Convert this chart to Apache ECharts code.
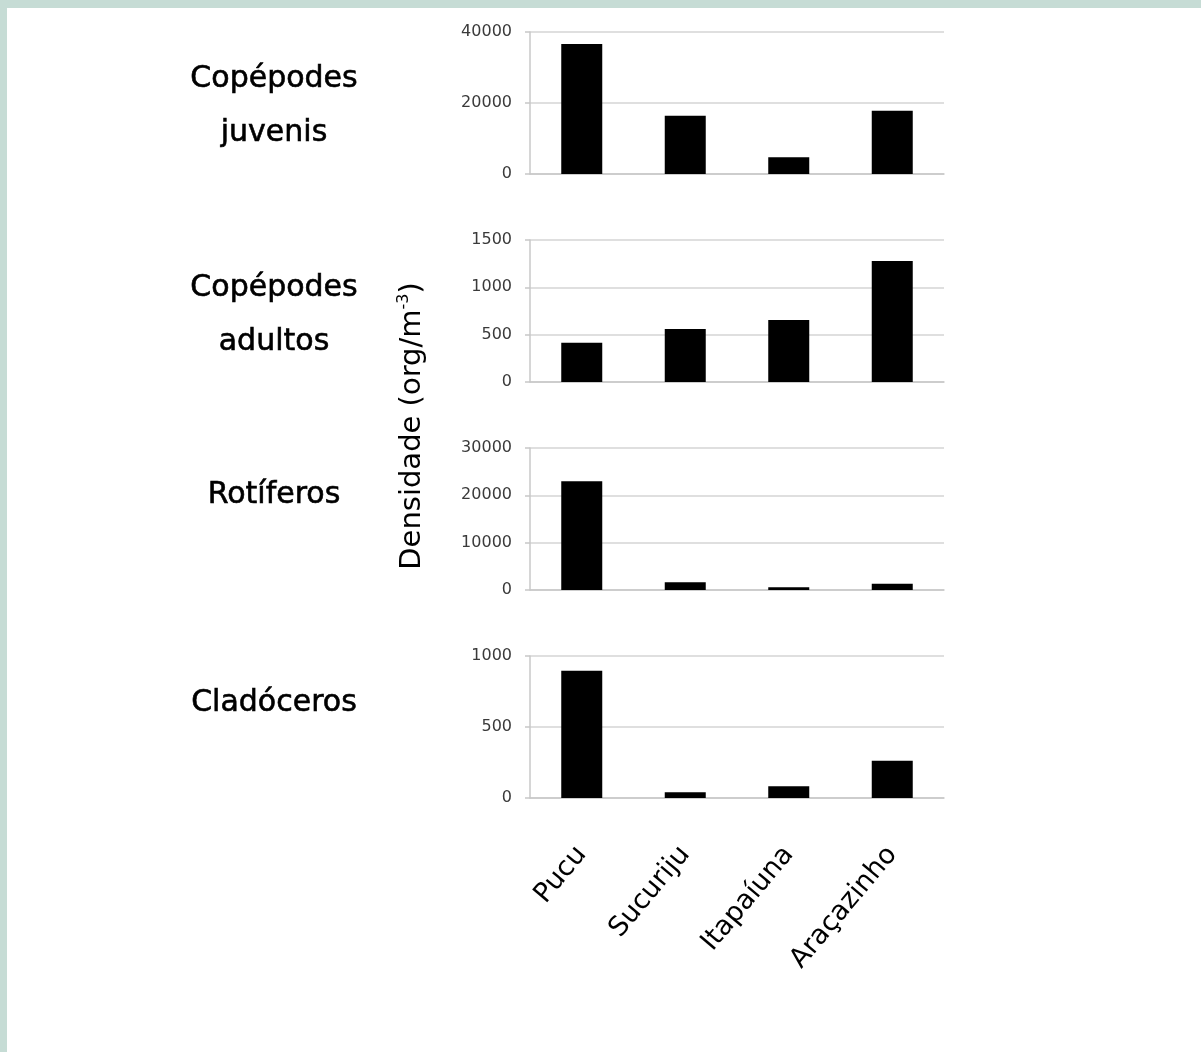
<!DOCTYPE html>
<html>
<head>
<meta charset="utf-8">
<script src="https://cdn.jsdelivr.net/npm/echarts@6/dist/echarts.min.js"></script>
<style>
  html, body { margin: 0; padding: 0; }
  #main { width: 1201px; height: 1052px; }
</style>
</head>
<body>
<div id="main"></div>
<script>
// locais de coleta
var categories = ['Pucu', 'Sucuriju', 'Itapaíuna', 'Araçazinho'];

// densidade (org/m-3)
var juvenis   = [36600, 16400, 4700, 17800];
var adultos   = [415, 560, 655, 1278];
var rotiferos = [23000, 1630, 570, 1340];
var cladoceros = [896, 40, 82, 263];

// nomes dos paineis
var panelNames = [['Copépodes', 'juvenis'], ['Copépodes', 'adultos'], ['Rotíferos'], ['Cladóceros']];
var panelNameY = [[79, 133], [288, 342], [495], [703]];

// eixo y de cada painel
var yMax = [40000, 1500, 30000, 1000];
var yStep = [20000, 500, 10000, 500];

var seriesData = [juvenis, adultos, rotiferos, cladoceros];

var grids = [], xAxes = [], yAxes = [], series = [], graphics = [];

// fundo (borda da imagem) e painel branco
graphics.push({ type: 'rect', shape: { x: 7, y: 8, width: 1194, height: 1044 }, style: { fill: '#ffffff' }, z: -10 });

for (var i = 0; i < 4; i++) {
    grids.push({ left: 530, width: 414, top: 32 + 208 * i, height: 142 });
    xAxes.push({
        type: 'category',
        gridIndex: i,
        data: categories,
        axisLine: { show: true, lineStyle: { color: '#c8c8c8', width: 1.5 } },
        axisTick: { show: false },
        axisLabel: i == 3 ? {
            show: true, rotate: 50, margin: 52, interval: 0,
            fontFamily: 'DejaVu Sans', fontSize: 27, color: '#000'
        } : { show: false }
    });
    yAxes.push({
        type: 'value',
        gridIndex: i,
        min: 0, max: yMax[i], interval: yStep[i],
        axisLine: { show: true, lineStyle: { color: '#c8c8c8', width: 1.5 } },
        axisTick: { show: true, length: 5, lineStyle: { color: '#c8c8c8', width: 1.5 } },
        splitLine: { show: true, lineStyle: { color: '#d4d4d4', width: 1.5 } },
        axisLabel: {
            margin: 18, fontFamily: 'DejaVu Sans', fontSize: 16, color: '#3a3a3a',
            formatter: function (v) { return String(v); }
        }
    });
    series.push({
        type: 'bar',
        xAxisIndex: i, yAxisIndex: i,
        data: seriesData[i],
        barWidth: 41,
        itemStyle: { color: '#000000' },
        silent: true
    });
    for (var j = 0; j < panelNames[i].length; j++) {
        graphics.push({
            type: 'text', x: 274, y: panelNameY[i][j],
            style: {
                text: panelNames[i][j], fill: '#000', stroke: '#000', lineWidth: 0.6,
                font: '30px "DejaVu Sans"', align: 'center', verticalAlign: 'middle'
            }
        });
    }
}

// titulo do eixo y
graphics.push({
    type: 'text', x: 412, y: 426, rotation: Math.PI / 2,
    style: {
        text: '{a|Densidade (org/m}{b|-3}{a|)}',
        align: 'center', verticalAlign: 'middle',
        rich: {
            a: { fontFamily: 'DejaVu Sans', fontSize: 29, fill: '#000', lineHeight: 32 },
            b: { fontFamily: 'DejaVu Sans', fontSize: 16, fill: '#000', verticalAlign: 'top', lineHeight: 32 }
        }
    }
});

var myChart = echarts.init(document.getElementById('main'));
myChart.setOption({
    backgroundColor: '#c6dcd5',
    animation: false,
    grid: grids,
    xAxis: xAxes,
    yAxis: yAxes,
    series: series,
    graphic: graphics
});
</script>
</body>
</html>
